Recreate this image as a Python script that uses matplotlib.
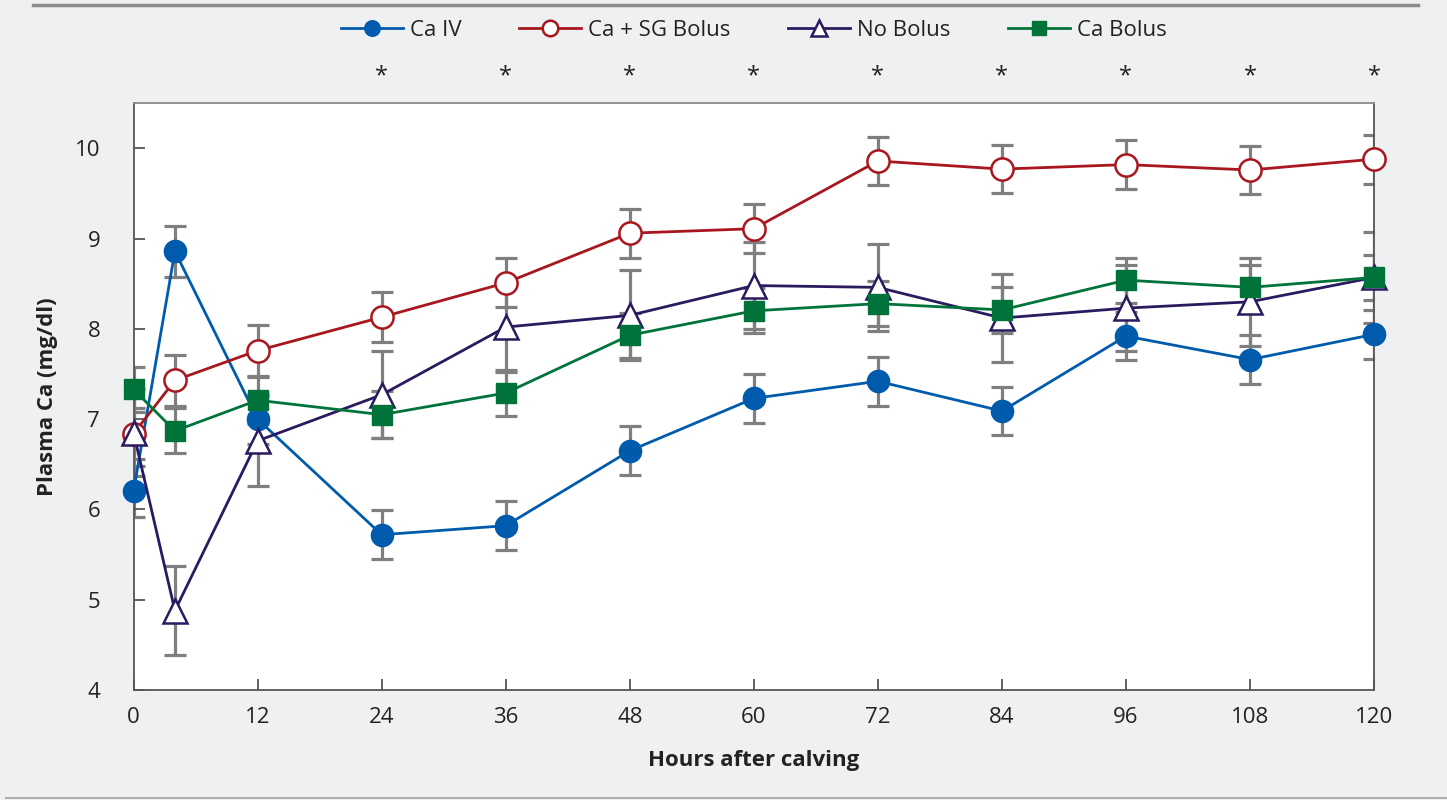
import matplotlib
matplotlib.use("Agg")
import matplotlib.pyplot as plt
from matplotlib.lines import Line2D

plt.rcParams['font.family'] = ['Open Sans', 'DejaVu Sans']

hours = [0, 4, 12, 24, 36, 48, 60, 72, 84, 96, 108, 120]
xticks = [0, 12, 24, 36, 48, 60, 72, 84, 96, 108, 120]
yticks = [4, 5, 6, 7, 8, 9, 10]
star_hours = [24, 36, 48, 60, 72, 84, 96, 108, 120]

ca_iv = [6.20, 8.86, 7.00, 5.72, 5.82, 6.65, 7.23, 7.42, 7.09, 7.92, 7.66, 7.94]
ca_iv_se = [0.28, 0.28, 0.28, 0.27, 0.27, 0.27, 0.27, 0.27, 0.27, 0.27, 0.27, 0.27]

ca_sg = [6.84, 7.43, 7.76, 8.13, 8.51, 9.06, 9.11, 9.86, 9.77, 9.82, 9.76, 9.88]
ca_sg_se = [0.28, 0.28, 0.28, 0.28, 0.27, 0.27, 0.27, 0.27, 0.27, 0.27, 0.27, 0.27]

no_bolus = [6.85, 4.88, 6.76, 7.27, 8.02, 8.15, 8.48, 8.46, 8.12, 8.23, 8.30, 8.57]
no_bolus_se = [0.48, 0.49, 0.50, 0.48, 0.50, 0.50, 0.48, 0.48, 0.49, 0.48, 0.49, 0.50]

ca_bolus = [7.33, 6.87, 7.21, 7.05, 7.29, 7.93, 8.20, 8.28, 8.21, 8.54, 8.46, 8.57]
ca_bolus_se = [0.25, 0.25, 0.26, 0.26, 0.25, 0.25, 0.25, 0.25, 0.25, 0.25, 0.25, 0.25]

bg = '#eff0f2'
fig = plt.figure(figsize=(14.47, 8.0), dpi=100, facecolor=bg)
ax = fig.add_axes([0.0923, 0.1375, 0.8573, 0.7335])
ax.set_facecolor('white')

ecol = '#7f7f7f'
series = [
    ("Ca IV", ca_iv, ca_iv_se, dict(color='#005bac', marker='o', mfc='#005bac', mec='#005bac', ms=16)),
    ("Ca + SG Bolus", ca_sg, ca_sg_se, dict(color='#a8171d', marker='o', mfc='white', mec='#a8171d', ms=16, mew=1.8)),
    ("No Bolus", no_bolus, no_bolus_se, dict(color='#2b1a5f', marker='^', mfc='white', mec='#2b1a5f', ms=17, mew=1.8)),
    ("Ca Bolus", ca_bolus, ca_bolus_se, dict(color='#00733a', marker='s', mfc='#00733a', mec='#00733a', ms=15)),
]

for name, vals, se, st in series:
    ax.errorbar(hours, vals, yerr=se, fmt='none', ecolor=ecol, elinewidth=2.3,
                capsize=8, capthick=2.3, zorder=1)
handles = []
for i, (name, vals, se, st) in enumerate(series):
    h, = ax.plot(hours, vals, lw=2.0, label=name, zorder=3 + i, clip_on=False, **st)
    handles.append(h)

ax.set_xlim(0, 120)
ax.set_ylim(4, 10.5)
ax.set_xticks(xticks)
ax.set_yticks(yticks)
ax.tick_params(direction='in', length=8, width=1.3, color='#555555', labelsize=16,
               labelcolor='#222222')
ax.tick_params(axis='x', pad=12)
ax.tick_params(axis='y', pad=24)
for s in ax.spines.values():
    s.set_color('#555555')
    s.set_linewidth(1.3)
ax.spines['top'].set_color('#8a8a8a')

ax.set_xlabel("Hours after calving", fontsize=16, fontweight='bold', color='#222222', labelpad=16)
ax.set_ylabel("Plasma Ca (mg/dl)", fontsize=16, fontweight='bold', color='#222222', labelpad=12)

for h in star_hours:
    ax.text(h, 10.80, '*', ha='center', va='center', fontsize=17, color='#222222', clip_on=False)

fig.legend(handles=handles, loc='center', bbox_to_anchor=(0.521, 0.962), ncol=4,
           frameon=False, fontsize=16, handlelength=2.8, handletextpad=0.3,
           columnspacing=2.6, markerscale=0.7, labelcolor='#222222')

fig.add_artist(Line2D([0.023, 0.98], [0.9935, 0.9935], transform=fig.transFigure,
                      color='#8c8c8c', lw=2.5))
fig.add_artist(Line2D([0.004, 1.0], [0.0025, 0.0025], transform=fig.transFigure,
                      color='#b0b0b0', lw=1.5))

fig.savefig("out.png", dpi=100, facecolor=bg)
